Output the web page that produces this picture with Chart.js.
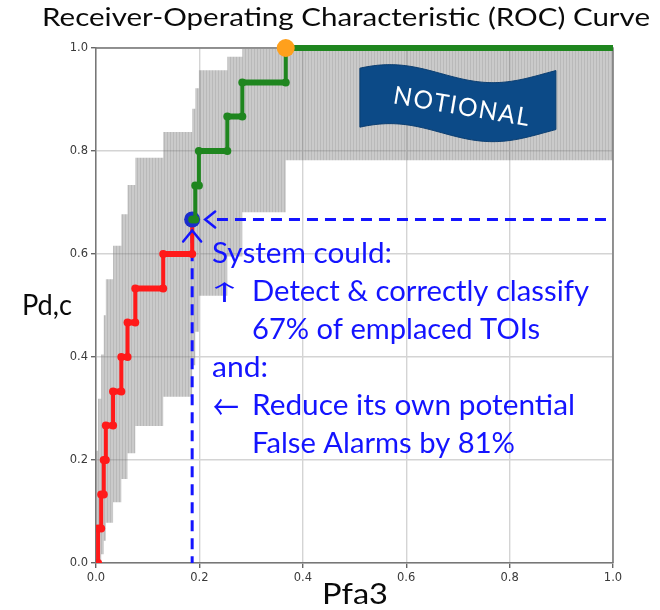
<!DOCTYPE html>
<html>
<head>
<meta charset="utf-8">
<title>ROC Curve</title>
<script src="https://cdn.jsdelivr.net/npm/chart.js@4.4.1/dist/chart.umd.min.js"></script>
<style>
  html, body { margin: 0; padding: 0; background: #ffffff; }
  canvas { display: block; }
</style>
</head>
<body>
<canvas id="roc" width="660" height="610"></canvas>
<script>
// Pfa at which Pd steps up to the next level (one step per detected target, 15 targets)
const stepPfa = [0.004, 0.010, 0.015, 0.019, 0.033, 0.049, 0.061, 0.076, 0.130, 0.186,
                 0.192, 0.199, 0.254, 0.283, 0.367];
// Pd levels reached after each step
const pdLevels = [0.000, 0.067, 0.133, 0.200, 0.267, 0.333, 0.400, 0.467, 0.533, 0.600,
                  0.667, 0.733, 0.800, 0.867, 0.933, 1.000];
// Confidence band on Pd for each level (lower / upper bound)
const bandLow  = [0.000, 0.002, 0.017, 0.043, 0.078, 0.118, 0.163, 0.213, 0.266, 0.323,
                  0.384, 0.449, 0.519, 0.595, 0.681, 0.782];
const bandHigh = [0.218, 0.319, 0.405, 0.481, 0.551, 0.616, 0.677, 0.734, 0.787, 0.837,
                  0.882, 0.922, 0.957, 0.983, 0.998, 0.995];
// Operating point: level index on the curve (10 of 15 targets)
const opLevel = 10;
// Axis ticks
const tickValues = [0.0, 0.2, 0.4, 0.6, 0.8, 1.0];

const opPfa = stepPfa[opLevel - 1];
const opPd = pdLevels[opLevel];
const pdPct = Math.round(opPd * 100);
const faCut = Math.round((1 - opPfa) * 100);

// corner points of the staircase between two level indices
function staircase(fromLevel, toLevel) {
  const pts = [];
  for (let k = fromLevel; k <= toLevel; k++) {
    const x = stepPfa[k - 1];
    pts.push({ x, y: pdLevels[k - 1] }, { x, y: pdLevels[k] });
  }
  return pts;
}
const bandEdges = [0, ...stepPfa];
const bandLine = (vals) => bandEdges.map((x, i) => ({ x, y: vals[i] }))
  .concat([{ x: 1, y: vals[vals.length - 1] }]);

const redPts = staircase(1, opLevel);
const greenPts = [{ x: opPfa, y: opPd }, ...staircase(opLevel + 1, pdLevels.length - 1), { x: 1, y: 1 }];
const fullDetect = { x: stepPfa[stepPfa.length - 1], y: pdLevels[pdLevels.length - 1] };

// faint vertical hatching for the confidence band
function bandPattern() {
  const c = document.createElement('canvas');
  c.width = 3; c.height = 4;
  const g = c.getContext('2d');
  g.fillStyle = 'rgba(128,128,128,0.42)';
  g.fillRect(0, 0, 2, 4);
  g.fillStyle = 'rgba(120,120,120,0.52)';
  g.fillRect(2, 0, 1, 4);
  return g.createPattern(c, 'repeat');
}

const BLUE = '#1414ff';
const TEXT_FONT = 'Lato, "Open Sans", sans-serif';
const ARROW_FONT = '"Noto Sans CJK JP", "DejaVu Sans", sans-serif';

function fitText(ctx, str, x, y, size, family, width, align) {
  ctx.save();
  ctx.font = size + 'px ' + family;
  ctx.textBaseline = 'alphabetic';
  ctx.textAlign = 'left';
  const w = ctx.measureText(str).width;
  const sx = width ? width / w : 1;
  ctx.translate(x, y);
  ctx.scale(sx, 1);
  ctx.fillText(str, align === 'center' ? -w / 2 : 0, 0);
  ctx.restore();
}

// draw a single glyph so that its inked box fills (x, y, w, h)
function boxGlyph(ctx, ch, x, y, w, h, family) {
  ctx.save();
  ctx.font = '28px ' + family;
  ctx.textBaseline = 'alphabetic';
  ctx.textAlign = 'left';
  const m = ctx.measureText(ch);
  const gw = m.actualBoundingBoxLeft + m.actualBoundingBoxRight;
  const gh = m.actualBoundingBoxAscent + m.actualBoundingBoxDescent;
  ctx.translate(x, y);
  ctx.scale(w / gw, h / gh);
  ctx.fillText(ch, m.actualBoundingBoxLeft, m.actualBoundingBoxAscent);
  ctx.restore();
}

const framePlugin = {
  id: 'frame',
  beforeDatasetsDraw(chart) {
    const { ctx, chartArea: a } = chart;
    ctx.save();
    ctx.strokeStyle = '#777777';
    ctx.lineWidth = 1.5;
    ctx.beginPath();
    ctx.moveTo(a.left, a.top);
    ctx.lineTo(a.right, a.top);
    ctx.lineTo(a.right, a.bottom);
    ctx.stroke();
    ctx.restore();
  }
};

const decorPlugin = {
  id: 'decor',
  afterDatasetsDraw(chart) {
    const { ctx, scales: { x, y } } = chart;
    // arrowheads on the operating-point guides
    const px = x.getPixelForValue(opPfa), py = y.getPixelForValue(opPd);
    ctx.save();
    ctx.strokeStyle = BLUE;
    ctx.lineWidth = 2.5;
    ctx.lineCap = 'round';
    ctx.beginPath();
    ctx.moveTo(px + 23, py - 8); ctx.lineTo(px + 13, py); ctx.lineTo(px + 23, py + 8);
    ctx.moveTo(px - 9, py + 22); ctx.lineTo(px, py + 11); ctx.lineTo(px + 9, py + 22);
    ctx.stroke();
    ctx.restore();

    // NOTIONAL flag
    const cx = x.getPixelForValue(0.70), cy = y.getPixelForValue(0.89);
    const top = (dx) => -31 - 9 * Math.cos(Math.PI * (dx + 68) / 103);
    ctx.save();
    ctx.beginPath();
    for (let dx = -98; dx <= 98; dx += 2) ctx.lineTo(cx + dx, cy + top(dx));
    for (let dx = 98; dx >= -98; dx -= 2) ctx.lineTo(cx + dx, cy + top(dx) + 59);
    ctx.closePath();
    ctx.fillStyle = '#0c4a87';
    ctx.fill();
    ctx.strokeStyle = '#0a3d70';
    ctx.lineWidth = 1;
    ctx.stroke();
    ctx.translate(cx + 2, cy + 10);
    ctx.rotate(9.5 * Math.PI / 180);
    ctx.fillStyle = '#ffffff';
    fitText(ctx, 'N O T I O N A L'.replace(/ /g, '\u200A'), 0, 0, 25, TEXT_FONT, 137, 'center');
    ctx.restore();
  },
  afterDraw(chart) {
    const { ctx } = chart;
    ctx.save();
    ctx.fillStyle = '#0a0a0a';
    fitText(ctx, 'Receiver-Operating Characteristic (ROC) Curve', 346, 26, 25, TEXT_FONT, 608, 'center');
    fitText(ctx, 'Pd,c', 22, 315, 28, TEXT_FONT, 50);
    fitText(ctx, 'Pfa3', 355, 604, 28, TEXT_FONT, 66, 'center');

    ctx.fillStyle = BLUE;
    fitText(ctx, 'System could:', 212, 263, 28, TEXT_FONT, 180);
    boxGlyph(ctx, '\u2191', 214, 282, 21, 20, ARROW_FONT);
    fitText(ctx, 'Detect & correctly classify', 252, 301, 28, TEXT_FONT, 337);
    fitText(ctx, pdPct + '% of emplaced TOIs', 252, 339, 28, TEXT_FONT, 288);
    fitText(ctx, 'and:', 212, 377, 28, TEXT_FONT, 56);
    boxGlyph(ctx, '\u2190', 213, 398, 25, 17, ARROW_FONT);
    fitText(ctx, 'Reduce its own potential', 252, 415, 28, TEXT_FONT, 323);
    fitText(ctx, 'False Alarms by ' + faCut + '%', 252, 453, 28, TEXT_FONT, 263);
    ctx.restore();
  }
};

const tickFont = { family: '"DejaVu Sans", sans-serif', size: 11.5 };
const gridOpts = { color: '#d4d4d4', lineWidth: 1.4, tickLength: 5, tickColor: '#666666' };
const LINE_W = c => (c.p0.parsed.y === c.p1.parsed.y ? 6 : 4);

new Chart(document.getElementById('roc'), {
  type: 'line',
  data: {
    datasets: [
      {
        label: 'band upper',
        data: bandLine(bandHigh),
        stepped: 'before',
        borderWidth: 0,
        pointRadius: 0,
        fill: '+1',
        backgroundColor: bandPattern(),
        order: 20
      },
      {
        label: 'band lower',
        data: bandLine(bandLow),
        stepped: 'before',
        borderWidth: 0,
        pointRadius: 0,
        fill: false,
        order: 21
      },
      {
        label: 'Pd guide',
        data: [{ x: 0.234, y: opPd }, { x: 1, y: opPd }],
        borderColor: BLUE,
        borderWidth: 3,
        borderDash: [11, 7],
        pointRadius: 0,
        order: 8
      },
      {
        label: 'Pfa guide',
        data: [{ x: opPfa, y: 0.642 }, { x: opPfa, y: 0 }],
        borderColor: BLUE,
        borderWidth: 3,
        borderDash: [11, 7],
        pointRadius: 0,
        order: 8
      },
      {
        label: 'below operating point',
        data: redPts,
        borderColor: '#ff1a1a',
        backgroundColor: '#ff1a1a',
        borderWidth: 4,
        segment: { borderWidth: LINE_W },
        pointRadius: 4,
        pointBorderWidth: 0,
        pointBackgroundColor: '#ff1a1a',
        order: 6
      },
      {
        label: 'operating point',
        data: [{ x: opPfa, y: opPd }],
        pointRadius: 8,
        pointBackgroundColor: '#1a2ccc',
        pointBorderWidth: 0,
        showLine: false,
        clip: false,
        order: 5
      },
      {
        label: 'above operating point',
        data: greenPts,
        borderColor: '#1f861f',
        backgroundColor: '#1f861f',
        borderWidth: 4,
        segment: { borderWidth: LINE_W },
        pointRadius: c => (c.dataIndex === greenPts.length - 1 ? 0 : 4),
        pointBorderWidth: 0,
        pointBackgroundColor: '#1f861f',
        clip: false,
        order: 4
      },
      {
        label: 'full detection',
        data: [fullDetect],
        pointRadius: 9,
        pointBackgroundColor: '#ffa01c',
        pointBorderWidth: 0,
        showLine: false,
        clip: false,
        order: 3
      }
    ]
  },
  options: {
    responsive: false,
    animation: false,
    devicePixelRatio: 1,
    layout: { padding: { left: 56, right: 47, top: 48, bottom: 27 } },
    plugins: { legend: { display: false }, tooltip: { enabled: false } },
    elements: { line: { tension: 0 } },
    scales: {
      x: {
        type: 'linear', min: 0, max: 1,
        afterFit: s => { s.height = 20; },
        afterBuildTicks: s => { s.ticks = tickValues.map(v => ({ value: v })); },
        ticks: { callback: v => v.toFixed(1), font: tickFont, color: '#3a3a3a', padding: 3, maxRotation: 0, autoSkip: false },
        grid: gridOpts,
        border: { color: '#777777', width: 1.5 }
      },
      y: {
        type: 'linear', min: 0, max: 1,
        afterFit: s => { s.width = 40; },
        afterBuildTicks: s => { s.ticks = tickValues.map(v => ({ value: v })); },
        ticks: { callback: v => v.toFixed(1), font: tickFont, color: '#3a3a3a', padding: 3, autoSkip: false },
        grid: gridOpts,
        border: { color: '#777777', width: 1.5 }
      }
    }
  },
  plugins: [framePlugin, decorPlugin]
});
</script>
</body>
</html>
